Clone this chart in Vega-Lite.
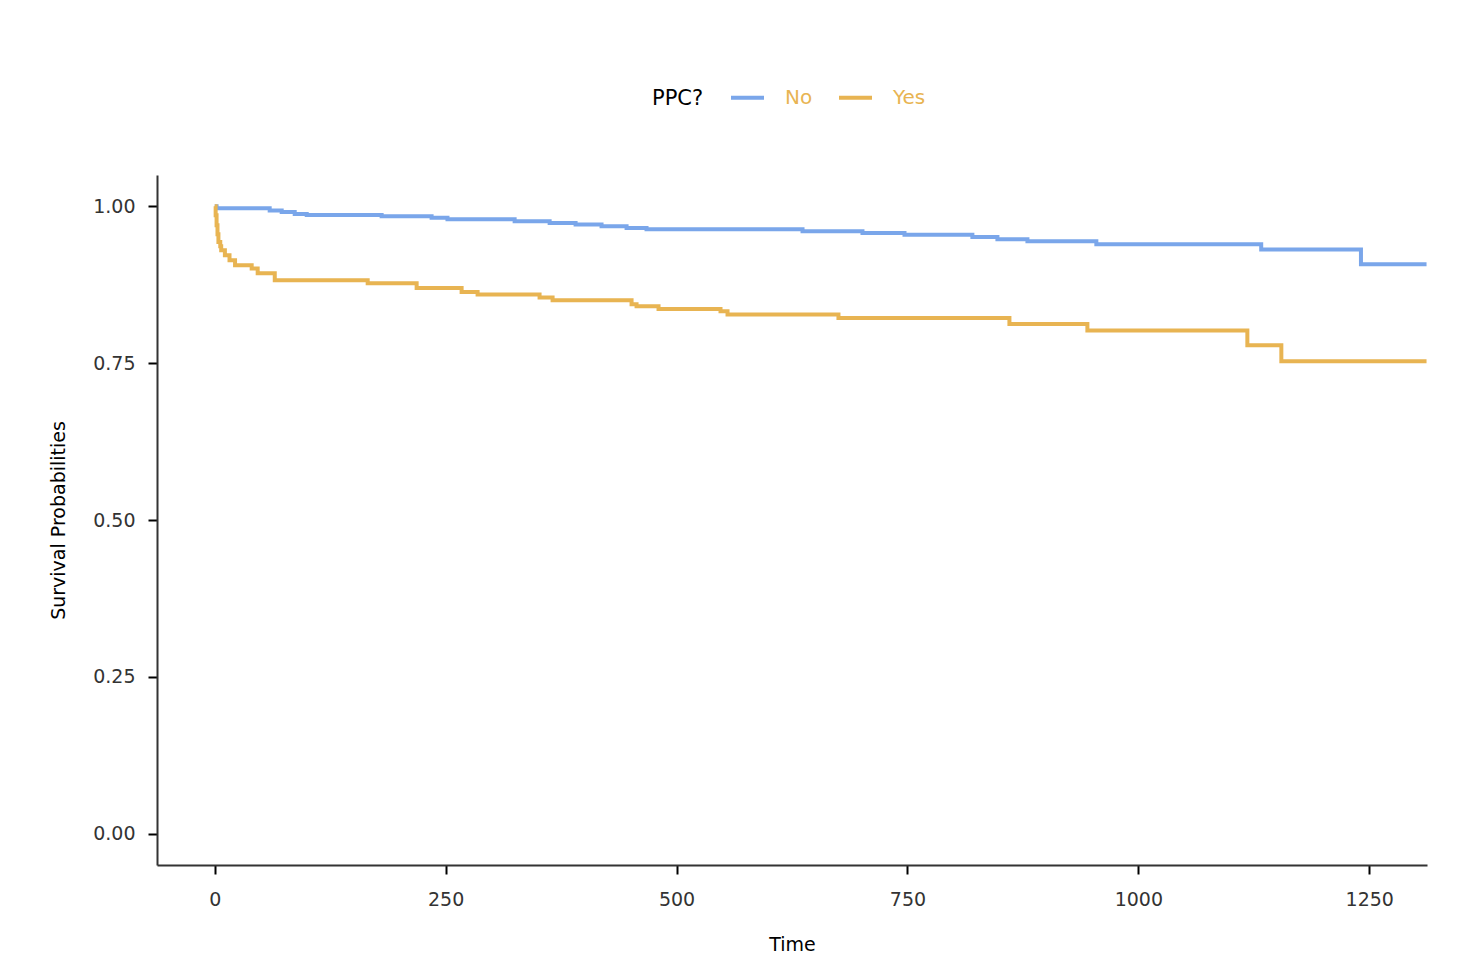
{
  "$schema": "https://vega.github.io/schema/vega-lite/v6.json",
  "width": 1270,
  "height": 690,
  "autosize": {"type": "none"},
  "padding": {"left": 157, "top": 175, "right": 30, "bottom": 90},
  "background": "#ffffff",
  "config": {
    "view": {"stroke": null},
    "font": "DejaVu Sans"
  },
  "data": {
    "values": [
      {"time": 0, "surv": 1.0, "group": "No"},
      {"time": 2, "surv": 0.9968, "group": "No"},
      {"time": 59.5, "surv": 0.9936, "group": "No"},
      {"time": 72.5, "surv": 0.9909, "group": "No"},
      {"time": 86.6, "surv": 0.988, "group": "No"},
      {"time": 99.6, "surv": 0.9862, "group": "No"},
      {"time": 180.7, "surv": 0.9841, "group": "No"},
      {"time": 234.8, "surv": 0.9817, "group": "No"},
      {"time": 252, "surv": 0.9793, "group": "No"},
      {"time": 324.7, "surv": 0.9761, "group": "No"},
      {"time": 362.6, "surv": 0.9734, "group": "No"},
      {"time": 390.7, "surv": 0.9709, "group": "No"},
      {"time": 418.8, "surv": 0.9682, "group": "No"},
      {"time": 445.9, "surv": 0.9654, "group": "No"},
      {"time": 467.5, "surv": 0.9634, "group": "No"},
      {"time": 636.4, "surv": 0.9602, "group": "No"},
      {"time": 701.3, "surv": 0.9575, "group": "No"},
      {"time": 746.8, "surv": 0.9549, "group": "No"},
      {"time": 820.3, "surv": 0.9511, "group": "No"},
      {"time": 847.4, "surv": 0.9475, "group": "No"},
      {"time": 879.9, "surv": 0.9443, "group": "No"},
      {"time": 954.5, "surv": 0.9395, "group": "No"},
      {"time": 1133, "surv": 0.9311, "group": "No"},
      {"time": 1241, "surv": 0.9076, "group": "No"},
      {"time": 1312, "surv": 0.9076, "group": "No"},
      {"time": 0, "surv": 1.0, "group": "Yes"},
      {"time": 1, "surv": 0.9857, "group": "Yes"},
      {"time": 2, "surv": 0.9697, "group": "Yes"},
      {"time": 3, "surv": 0.9554, "group": "Yes"},
      {"time": 4, "surv": 0.9432, "group": "Yes"},
      {"time": 6, "surv": 0.9363, "group": "Yes"},
      {"time": 7, "surv": 0.9299, "group": "Yes"},
      {"time": 11, "surv": 0.922, "group": "Yes"},
      {"time": 16, "surv": 0.914, "group": "Yes"},
      {"time": 22, "surv": 0.9061, "group": "Yes"},
      {"time": 40, "surv": 0.9008, "group": "Yes"},
      {"time": 46.5, "surv": 0.8933, "group": "Yes"},
      {"time": 65, "surv": 0.8822, "group": "Yes"},
      {"time": 165.6, "surv": 0.8774, "group": "Yes"},
      {"time": 218.6, "surv": 0.8699, "group": "Yes"},
      {"time": 267.3, "surv": 0.8635, "group": "Yes"},
      {"time": 284.6, "surv": 0.8594, "group": "Yes"},
      {"time": 351.7, "surv": 0.8546, "group": "Yes"},
      {"time": 365.8, "surv": 0.8503, "group": "Yes"},
      {"time": 451.3, "surv": 0.8439, "group": "Yes"},
      {"time": 456.7, "surv": 0.8408, "group": "Yes"},
      {"time": 480.5, "surv": 0.8365, "group": "Yes"},
      {"time": 547.6, "surv": 0.8328, "group": "Yes"},
      {"time": 555.2, "surv": 0.8275, "group": "Yes"},
      {"time": 675.3, "surv": 0.8221, "group": "Yes"},
      {"time": 860.4, "surv": 0.8126, "group": "Yes"},
      {"time": 944.8, "surv": 0.8021, "group": "Yes"},
      {"time": 1118, "surv": 0.7787, "group": "Yes"},
      {"time": 1154.8, "surv": 0.7532, "group": "Yes"},
      {"time": 1312, "surv": 0.7532, "group": "Yes"}
    ]
  },
  "mark": {"type": "line", "interpolate": "step-after", "strokeWidth": 4, "clip": true},
  "encoding": {
    "x": {
      "field": "time",
      "type": "quantitative",
      "scale": {"domain": [-62.5, 1312.5], "nice": false, "zero": false},
      "axis": {
        "title": "Time",
        "values": [0, 250, 500, 750, 1000, 1250],
        "format": "d",
        "grid": false,
        "domainColor": "#333333",
        "domainWidth": 2,
        "tickColor": "#000000",
        "tickWidth": 2,
        "tickSize": 9,
        "labelFontSize": 19,
        "labelColor": "#333333",
        "labelPadding": 16,
        "titleFontSize": 19,
        "titleFontWeight": "normal",
        "titleColor": "#000000",
        "titlePadding": 26
      }
    },
    "y": {
      "field": "surv",
      "type": "quantitative",
      "scale": {"domain": [-0.05, 1.05], "nice": false, "zero": false},
      "axis": {
        "title": "Survival Probabilities",
        "values": [0, 0.25, 0.5, 0.75, 1],
        "format": ".2f",
        "grid": false,
        "domainColor": "#333333",
        "domainWidth": 2,
        "tickColor": "#000000",
        "tickWidth": 2,
        "tickSize": 9,
        "labelFontSize": 19,
        "labelColor": "#333333",
        "labelPadding": 13,
        "titleFontSize": 19,
        "titleFontWeight": "normal",
        "titleColor": "#000000",
        "titlePadding": 24
      }
    },
    "color": {
      "field": "group",
      "type": "nominal",
      "scale": {"domain": ["No", "Yes"], "range": ["#7aa6ea", "#e8b452"]},
      "legend": {
        "title": "PPC?",
        "orient": "none",
        "direction": "horizontal",
        "legendX": 495,
        "legendY": -96,
        "titleOrient": "left",
        "titleBaseline": "line-top",
        "titleLineHeight": 12,
        "titleFontSize": 21,
        "titleFontWeight": "normal",
        "titleColor": "#000000",
        "titlePadding": 25,
        "labelFontSize": 20,
        "labelColor": "#e8b452",
        "labelOffset": 19,
        "symbolType": "stroke",
        "symbolSize": 1089,
        "symbolStrokeWidth": 4,
        "columnPadding": 18,
        "padding": 0
      }
    }
  }
}
